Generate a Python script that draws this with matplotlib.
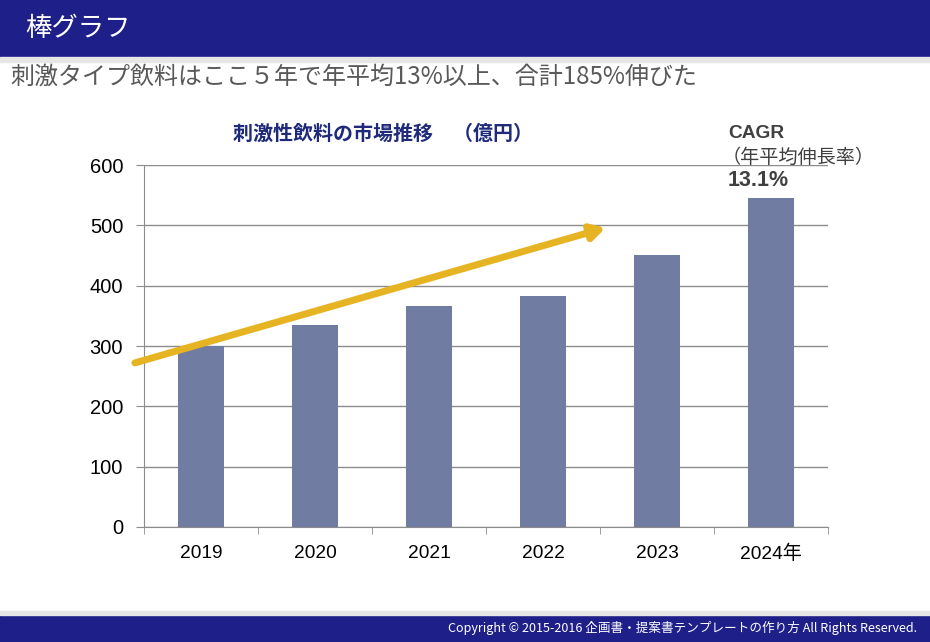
import matplotlib.pyplot as plt
import matplotlib.patheffects as pe
from matplotlib.patches import Rectangle

# data
years = ["2019", "2020", "2021", "2022", "2023", "2024年"]
sales = [300, 335, 366, 383, 451, 545]
y_ticks = [0, 100, 200, 300, 400, 500, 600]

# trend arrow (data coords)
arrow_start = (-0.58, 272)
arrow_end = (3.55, 496)

navy = "#1f1f8a"
bar_color = "#717ca2"
grid_gray = "#8c8c8c"

jp = ["Noto Sans CJK JP", "DejaVu Sans"]
num = ["Liberation Sans", "Noto Sans CJK JP"]
plt.rcParams["font.family"] = jp

W, H = 930, 642
fig = plt.figure(figsize=(W / 100, H / 100), dpi=100)

# header / footer bands
fig.patches.append(Rectangle((0, 1 - 57 / H), 1, 57 / H, transform=fig.transFigure, color=navy, zorder=0))
fig.patches.append(Rectangle((0, 1 - 62 / H), 1, 5 / H, transform=fig.transFigure, color="#e6e6e6", zorder=0))
fig.patches.append(Rectangle((0, 0), 1, 27 / H, transform=fig.transFigure, color=navy, zorder=0))
fig.patches.append(Rectangle((0, 27 / H), 1, 4 / H, transform=fig.transFigure, color="#e6e6e6", zorder=0))

fig.text(25 / W, 1 - 29 / H, "棒グラフ", color="white", fontsize=19, va="center", ha="left")
fig.text(10 / W, 1 - 77 / H, "刺激タイプ飲料はここ５年で年平均13%以上、合計185%伸びた",
         color="#595959", fontsize=17.3, va="center", ha="left")
fig.text(917 / W, 14 / H, "Copyright © 2015-2016 企画書・提案書テンプレートの作り方 All Rights Reserved.",
         color="white", fontsize=9.05, va="center", ha="right")

# chart
ax = fig.add_axes([144 / W, (H - 527) / H, 684 / W, 362 / H])
x = list(range(len(years)))
ax.bar(x, sales, width=0.4, color=bar_color, zorder=2)

ax.set_xlim(-0.5, len(years) - 0.5)
ax.set_ylim(0, 600)
ax.set_yticks(y_ticks)
ax.yaxis.grid(True, color=grid_gray, linewidth=1)
ax.set_axisbelow(True)
for s in ["top", "right"]:
    ax.spines[s].set_visible(False)
for s in ["left", "bottom"]:
    ax.spines[s].set_color(grid_gray)

ax.set_xticks(x)
ax.set_xticklabels(years, fontfamily=num, fontsize=13.8)
ax.set_xticks([i + 0.5 for i in range(-1, len(years))], minor=True)
ax.tick_params(axis="x", which="major", length=0, pad=13)
ax.tick_params(axis="x", which="minor", length=5, color=grid_gray)
ax.tick_params(axis="y", length=6, color=grid_gray, pad=9)
for lab in ax.get_yticklabels():
    lab.set_fontfamily(num)
    lab.set_fontsize(14.5)

ax.annotate("", xy=arrow_end, xytext=arrow_start, annotation_clip=False,
            arrowprops=dict(arrowstyle="-|>,head_length=0.8,head_width=0.45", lw=5,
                            color="#e6b422", shrinkA=0, shrinkB=0,
                            path_effects=[pe.SimplePatchShadow(offset=(1.5, -1.5), alpha=0.25), pe.Normal()]),
            zorder=5)

fig.text(383 / W, 1 - 133 / H, "刺激性飲料の市場推移　（億円）", color="#1f2a7a",
         fontsize=14.4, fontweight="bold", ha="center", va="center")
fig.text(728 / W, 1 - 133 / H, "CAGR", color="#404040", fontsize=13.8, fontweight="bold",
         fontfamily=num, ha="left", va="center")
fig.text(722 / W, 1 - 157 / H, "（年平均伸長率）", color="#404040", fontsize=13.8, ha="left", va="center")
fig.text(728 / W, 1 - 181 / H, "13.1%", color="#404040", fontsize=15.5, fontweight="bold",
         fontfamily=num, ha="left", va="center")

fig.savefig("out.png", dpi=100)
